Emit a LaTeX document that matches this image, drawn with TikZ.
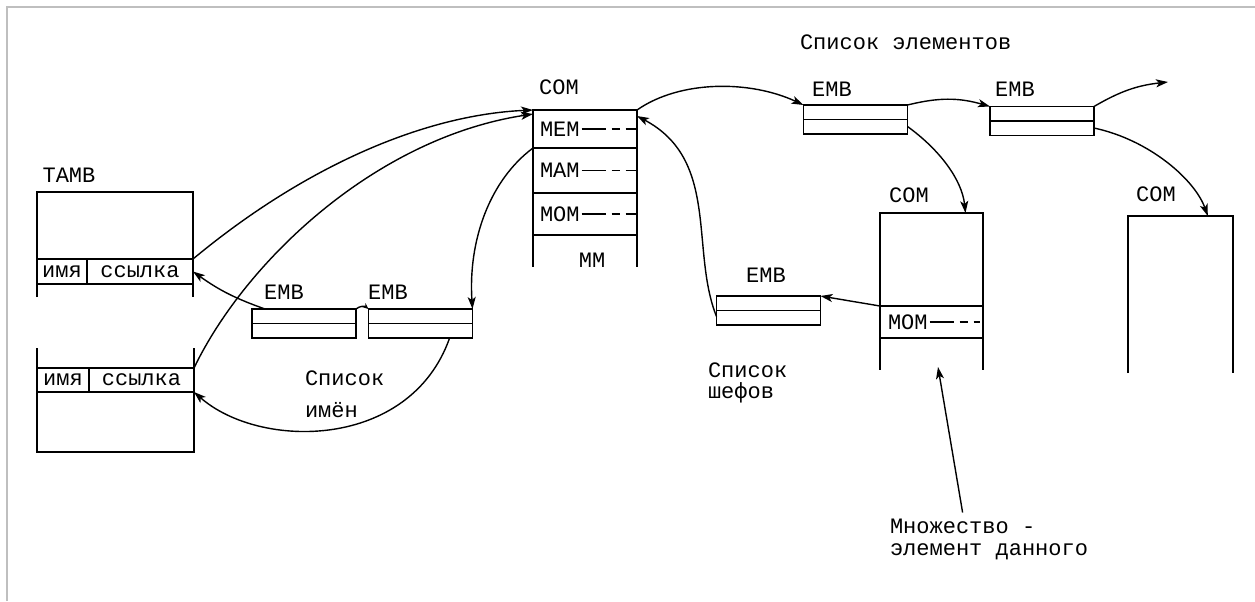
\documentclass[tikz,border=0pt]{standalone}
\usepackage{fontspec}
\setmainfont{Liberation Mono}
\usetikzlibrary{arrows.meta,positioning,calc}
\def\embw{52pt}
\def\embh{14.5pt}

\begin{document}
\begin{tikzpicture}[x=0.5pt,y=-0.5pt,line width=0.9pt,>={Stealth[length=6pt,width=4pt,inset=1.5pt]}]
	\tikzstyle{every node}=[font=\fontsize{11}{12}\selectfont,inner sep=0pt,outer sep=0pt]
	\tikzstyle{emb box}=[draw,rectangle,minimum width=\embw,minimum height=\embh]
	\tikzstyle{cell}=[draw,rectangle,minimum height=12.5pt]
	\tikzstyle{row}=[draw,rectangle]
	\tikzstyle{link}=[->,line width=0.7pt]
	\tikzstyle{dashrow}=[line width=0.8pt,dash pattern=on 12pt off 3pt on 4pt off 3pt on 6pt off 3pt]
	\tikzstyle{frame}=[draw=black!25,line width=0.85pt]

	\useasboundingbox (0,0) rectangle (1255,601);
	\draw[frame] (6.7,601) -- (6.7,6.7) -- (1255,6.7);

	% Draw the TAMB boxes
	\node (lbl-tamb) at (69,175) {TAMB};
	\node[minimum width=78pt,minimum height=52.5pt] (tamb1) at (115,244.5) {};
	\draw (tamb1.south west) -- (tamb1.north west) -- (tamb1.north east) -- (tamb1.south east);
	\node[cell,minimum width=25pt] (tamb1-name) at (62,271.5) {имя};
	\node[cell,minimum width=53pt,right=0pt of tamb1-name] (tamb1-ref) {ссылка};

	\node[minimum width=78.5pt,minimum height=52pt] (tamb2) at (115.5,400) {};
	\draw (tamb2.north west) -- (tamb2.south west) -- (tamb2.south east) -- (tamb2.north east);
	\node[cell,minimum width=26pt,minimum height=12pt] (tamb2-name) at (63,380) {имя};
	\node[cell,minimum width=52.5pt,minimum height=12pt,right=0pt of tamb2-name] (tamb2-ref) {ссылка};

	% Draw the COM of the set
	\node (lbl-com1) at (559,87) {COM};
	\node[row,minimum width=52pt,minimum height=19pt] (com-mem) at (585,129) {};
	\node[row,minimum width=52pt,minimum height=22.5pt,below=0pt of com-mem] (com-mam) {};
	\node[row,minimum width=52pt,minimum height=21pt,below=0pt of com-mam] (com-mom) {};
	\draw (com-mom.south west) -- ++(0,32);
	\draw (com-mom.south east) -- ++(0,32);
	\node (lbl-mm) at (592,260) {MM};
	\foreach \name/\txt in {mem/MEM,mam/MAM,mom/MOM} {
		\node[anchor=west] (lbl-\name) at ([xshift=3.5pt]com-\name.west) {\txt};
		\draw[dashrow] ([xshift=1pt]lbl-\name.east) -- (com-\name.east);
	}

	% Draw the COM of the member
	\node (lbl-com2) at (909,195) {COM};
	\node[row,minimum width=51.5pt,minimum height=46.5pt] (com2-top) at (931.5,259.5) {};
	\node[row,minimum width=51.5pt,minimum height=16pt,below=0pt of com2-top] (com2-mom) {};
	\draw (com2-mom.south west) -- ++(0,32);
	\draw (com2-mom.south east) -- ++(0,32);
	\node[anchor=west] (lbl-mom2) at ([xshift=4pt]com2-mom.west) {MOM};
	\draw[dashrow] ([xshift=1pt]lbl-mom2.east) -- ([xshift=-1.5pt]com2-mom.east);

	\node (lbl-com3) at (1156,194) {COM};
	\node[minimum width=52.5pt,minimum height=78.5pt] (com3) at (1180.5,294.5) {};
	\draw (com3.south west) -- (com3.north west) -- (com3.north east) -- (com3.south east);

	% Draw the EMB boxes
	\foreach \name/\x/\y in {l1/304/323.5,l2/420.5/323.5,t1/855.5/119.5,t2/1042/121,c/768.5/310.5} {
		\node[emb box] (EMB-\name) at (\x,\y) {};
		\draw (EMB-\name.west) -- (EMB-\name.east);
	}
	\node (lbl-emb-l1) at (284,292) {EMB};
	\node (lbl-emb-l2) at (388,292) {EMB};
	\node (lbl-emb-t1) at (832,89) {EMB};
	\node (lbl-emb-t2) at (1015,89) {EMB};
	\node (lbl-emb-c) at (766,275) {EMB};

	% Texts
	\node[anchor=base west] (lbl-elems) at (800,49) {Список элементов};
	\node[anchor=base west] (lbl-names1) at (305,385) {Список};
	\node[anchor=base west] (lbl-names2) at (305,417) {имён};
	\node[anchor=base west] (lbl-chiefs1) at (708,377) {Список};
	\node[anchor=base west] (lbl-chiefs2) at (708,398) {шефов};
	\node[anchor=base west] (lbl-set1) at (890,533) {Множество -};
	\node[anchor=base west] (lbl-set2) at (890,555) {элемент данного};
	\coordinate (emb-out) at (1168,82);

	% Connect the list of names
	\draw[link] (tamb1-ref.north east) .. controls (300,170) and (420,115) .. (com-mem.north west);
	\draw[link] (tamb2-ref.north east) .. controls (245,262) and (375,138) .. ([yshift=-2pt]com-mem.north west);
	\draw[link] ($(EMB-l1.north west)+(13,0)$) to[bend left=8] (tamb1-ref.east);
	\draw[link] ($(EMB-l2.south west)!0.78!(EMB-l2.south east)$) .. controls (410,450) and (260,450) .. (tamb2-ref.south east);
	\draw[link] (com-mem.south west) .. controls (490,180) and (468,240) .. (EMB-l2.north east);
	\draw[link,>={Stealth[length=3pt,width=2.5pt]}] (EMB-l1.north east) to[bend left=40] (EMB-l2.north west);

	% Connect the list of members
	\draw[link] (com-mem.north east) .. controls (680,80) and (750,80) .. (EMB-t1.north west);
	\draw[link] (EMB-t1.north east) to[bend left=15] (EMB-t2.north west);
	\draw[link] (EMB-t2.north east) to[bend left=12] (emb-out);
	\draw[link] ([yshift=-3.5pt]EMB-t1.east) .. controls (940,150) and (962,180) .. ($(com2-top.north west)!0.83!(com2-top.north east)$);
	\draw[link] ([yshift=-3.5pt]EMB-t2.east) .. controls (1150,140) and (1195,180) .. ($(com3.north west)!0.76!(com3.north east)$);

	% Connect the list of chiefs
	\draw[link] (com2-top.south west) -- (EMB-c.north east);
	\draw[link] ([yshift=-3pt]EMB-c.west) .. controls (690,250) and (720,160) .. ([yshift=-3pt]com-mem.north east);
	\draw[link] ([yshift=3pt]lbl-set1.north) -- ([xshift=3.25pt,yshift=-14.5pt]com2-mom.south);

\end{tikzpicture}
\end{document}
